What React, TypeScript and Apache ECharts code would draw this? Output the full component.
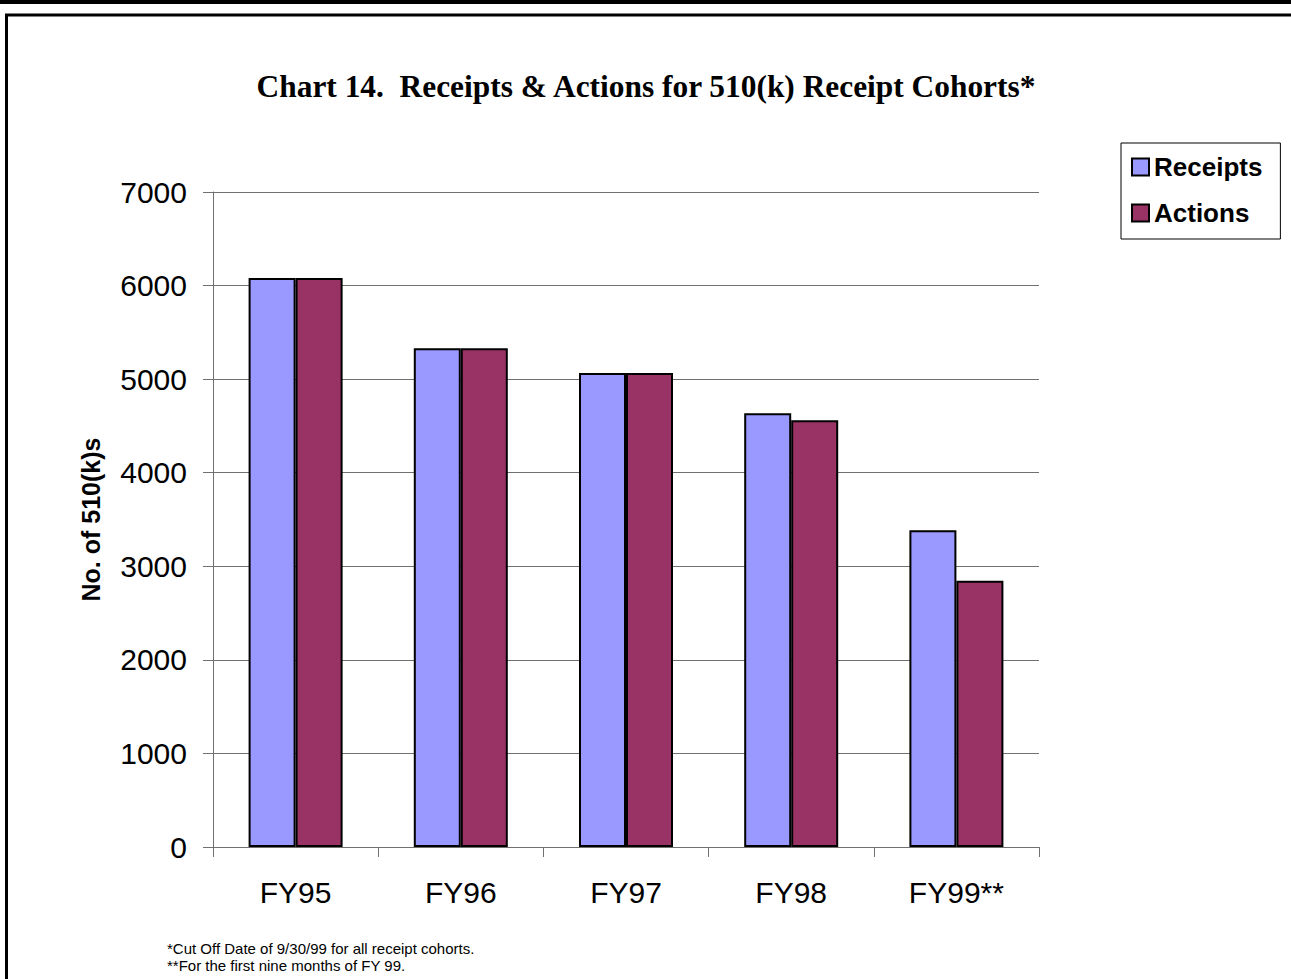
import React, { useEffect, useRef } from "react";
import * as echarts from "echarts";

const categories = ["FY95", "FY96", "FY97", "FY98", "FY99**"];
const receipts = [6080, 5330, 5065, 4635, 3385];
const actions = [6080, 5330, 5065, 4560, 2845];
const yTicks = { min: 0, max: 7000, interval: 1000 };

const titleText = "Chart 14.  Receipts & Actions for 510(k) Receipt Cohorts*";
const footnotes = [
  "*Cut Off Date of 9/30/99 for all receipt cohorts.",
  "**For the first nine months of FY 99.",
];

const SANS = "'Liberation Sans', Arial, sans-serif";
const SERIF = "'Liberation Serif', 'Times New Roman', serif";

export default function App() {
  const ref = useRef<HTMLDivElement>(null);
  useEffect(() => {
    if (!ref.current) return;
    const chart = echarts.init(ref.current, null, { renderer: "svg" });
    chart.setOption({
      animation: false,
      backgroundColor: "#ffffff",
      textStyle: { fontFamily: SANS },
      grid: { left: 213, top: 192, right: 252, bottom: 132, containLabel: false },
      legend: {
        orient: "vertical",
        left: 1121,
        top: 143,
        padding: [11, 18, 13, 10],
        itemGap: 20,
        itemWidth: 17,
        itemHeight: 17,
        icon: "rect",
        borderColor: "#000000",
        borderWidth: 1,
        backgroundColor: "#ffffff",
        textStyle: { fontFamily: SANS, fontSize: 26, fontWeight: "bold", color: "#000" },
        data: ["Receipts", "Actions"],
      },
      xAxis: {
        type: "category",
        data: categories,
        axisLine: { show: true, lineStyle: { color: "#707070", width: 1 } },
        axisTick: { show: true, length: 10, alignWithLabel: false, lineStyle: { color: "#707070" } },
        axisLabel: { fontFamily: SANS, fontSize: 30, color: "#000", margin: 30 },
        splitLine: { show: false },
      },
      yAxis: {
        type: "value",
        min: yTicks.min,
        max: yTicks.max,
        interval: yTicks.interval,
        name: "No. of 510(k)s",
        nameLocation: "middle",
        nameRotate: 90,
        nameGap: 110,
        nameTextStyle: { fontFamily: SANS, fontSize: 25, fontWeight: "bold", color: "#000" },
        axisLine: { show: true, lineStyle: { color: "#707070", width: 1 } },
        axisTick: { show: true, length: 10, lineStyle: { color: "#707070" } },
        axisLabel: {
          fontFamily: SANS,
          fontSize: 30,
          color: "#000",
          margin: 26,
          formatter: (v: number) => String(v),
        },
        splitLine: { show: true, lineStyle: { color: "#707070", width: 1 } },
      },
      series: [
        {
          name: "Receipts",
          type: "bar",
          data: receipts,
          barWidth: 47,
          barGap: "0%",
          itemStyle: { color: "#9999FF", borderColor: "#000000", borderWidth: 2 },
        },
        {
          name: "Actions",
          type: "bar",
          data: actions,
          barWidth: 47,
          barGap: "0%",
          itemStyle: { color: "#993366", borderColor: "#000000", borderWidth: 2 },
        },
      ],
      graphic: [
        {
          type: "rect",
          silent: true,
          shape: { x: 0, y: 0, width: 1291, height: 4 },
          style: { fill: "#000000" },
        },
        {
          type: "rect",
          silent: true,
          shape: { x: 6.5, y: 15, width: 1400, height: 1100 },
          style: { fill: "none", stroke: "#000000", lineWidth: 3 },
        },
        {
          type: "text",
          silent: true,
          x: 646,
          y: 86,
          style: {
            text: titleText,
            font: `bold 31.4px ${SERIF}`,
            fill: "#000",
            textAlign: "center",
            textVerticalAlign: "middle",
          },
        },
        ...footnotes.map((t, i) => ({
          type: "text",
          silent: true,
          x: 167,
          y: 948 + i * 17,
          style: {
            text: t,
            font: `15px ${SANS}`,
            fill: "#000",
            textAlign: "left",
            textVerticalAlign: "middle",
          },
        })),
      ],
    });
    return () => chart.dispose();
  }, []);
  return (
    <div
      ref={ref}
      style={{ position: "fixed", left: 0, top: 0, width: 1291, height: 979, background: "#fff" }}
    />
  );
}
